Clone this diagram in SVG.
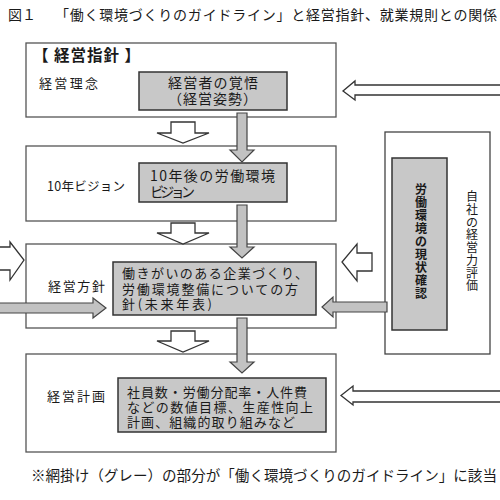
<svg xmlns="http://www.w3.org/2000/svg" width="500" height="500" viewBox="0 0 500 500">
<style>
text{font-family:"Noto Sans CJK JP","Noto Sans CJK SC",sans-serif;fill:#1a1a1a}
.outer{fill:#fff;stroke:#555;stroke-width:1.3}
.gray{fill:#c8c8c8;stroke:#333;stroke-width:1.5}
.lbl{font-size:13px}
.in{font-size:14px}
.in2{font-size:13px}
.v{font-size:12px;text-anchor:middle}
.vb{font-size:12px;text-anchor:middle;font-weight:bold}
.ga{fill:#c2c2c2;stroke:#444;stroke-width:1.2;stroke-linejoin:miter}
.wa{fill:#fff;stroke:#333;stroke-width:1.3;stroke-linejoin:miter}
</style>
<rect width="500" height="500" fill="#fff"/>
<g id="title">
<text x="8" y="20" font-size="14">図１</text>
<text x="55" y="20" font-size="14" textLength="442" lengthAdjust="spacing">「働く環境づくりのガイドライン」と経営指針、就業規則との関係</text>
</g>
<g id="policy">
<rect class="outer" x="26" y="43" width="310" height="74"/>
<text x="33" y="61" font-size="15.5" font-weight="bold" textLength="107" lengthAdjust="spacing">【 経営指針 】</text>
<text class="lbl" x="39" y="88" textLength="59" lengthAdjust="spacing">経営理念</text>
</g>
<g id="resolve">
<rect class="gray" x="139" y="72" width="148" height="38"/>
<text class="in" x="168" y="88" textLength="90" lengthAdjust="spacing">経営者の覚悟</text>
<text class="in" x="213" y="104" text-anchor="middle" letter-spacing="1">（経営姿勢）</text>
</g>
<g id="vision">
<rect class="outer" x="26" y="146" width="310" height="75"/>
<text x="47" y="191" font-size="12.5" textLength="78" lengthAdjust="spacing">10年ビジョン</text>
</g>
<g id="vision-detail">
<rect class="gray" x="139" y="163" width="148" height="39"/>
<text class="in" x="150" y="181" textLength="125" lengthAdjust="spacing">10年後の労働環境</text>
<text class="in" x="150" y="197" textLength="45" lengthAdjust="spacing">ビジョン</text>
</g>
<g id="direction">
<rect class="outer" x="26" y="244" width="310" height="84"/>
<text class="lbl" x="48" y="291" textLength="57" lengthAdjust="spacing">経営方針</text>
</g>
<g id="direction-detail">
<rect class="gray" x="113" y="262" width="203" height="53"/>
<text class="in2" x="122" y="278" textLength="186" lengthAdjust="spacing">働きがいのある企業づくり、</text>
<text class="in2" x="122" y="293.5" textLength="176" lengthAdjust="spacing">労働環境整備についての方</text>
<text class="in2" x="122" y="309" textLength="90" lengthAdjust="spacing">針(未来年表)</text>
</g>
<g id="plan">
<rect class="outer" x="26" y="354" width="310" height="98"/>
<text class="lbl" x="47" y="401" textLength="58" lengthAdjust="spacing">経営計画</text>
</g>
<g id="plan-detail">
<rect class="gray" x="118" y="378" width="208" height="54"/>
<text class="in2" x="127" y="397" textLength="180" lengthAdjust="spacing">社員数・労働分配率・人件費</text>
<text class="in2" x="127" y="412" textLength="186" lengthAdjust="spacing">などの数値目標、生産性向上</text>
<text class="in2" x="127" y="426.5" textLength="168" lengthAdjust="spacing">計画、組織的取り組みなど</text>
</g>
<g id="evaluation">
<rect x="385" y="132" width="105" height="222" fill="#fff" stroke="#444" stroke-width="1.3"/>
<text class="v" x="472" y="201.3">自</text>
<text class="v" x="472" y="214">社</text>
<text class="v" x="472" y="226.7">の</text>
<text class="v" x="472" y="239.4">経</text>
<text class="v" x="472" y="252.1">営</text>
<text class="v" x="472" y="264.8">力</text>
<text class="v" x="472" y="277.5">評</text>
<text class="v" x="472" y="290.2">価</text>
</g>
<g id="status-check">
<rect class="gray" x="392" y="158" width="55" height="172"/>
<text class="vb" x="421" y="194.3">労</text>
<text class="vb" x="421" y="207.3">働</text>
<text class="vb" x="421" y="220.3">環</text>
<text class="vb" x="421" y="233.3">境</text>
<text class="vb" x="421" y="246.3">の</text>
<text class="vb" x="421" y="259.3">現</text>
<text class="vb" x="421" y="272.3">状</text>
<text class="vb" x="421" y="285.3">確</text>
<text class="vb" x="421" y="298.3">認</text>
</g>
<g id="connectors">
<polygon class="wa" points="502,85 355,85 355,81 343,91 355,100 355,95 502,95"/>
<polygon class="wa" points="502,391 353,391 353,386 341,395.5 353,405 353,402 502,402"/>
<polygon class="wa" points="171,122 195,122 195,133 209,133 183,143 157,133 171,133"/>
<polygon class="wa" points="171,223 195,223 195,233 209,233 183,244 157,233 171,233"/>
<polygon class="wa" points="171,331 195,331 195,341 209,341 183,352 157,341 171,341"/>
<polygon class="wa" points="-2,247 10,247 10,242 24,260 10,280 10,270 -2,270"/>
<polygon class="wa" points="372,253 357,253 357,244 342,262 357,281 357,271 372,271"/>
<polygon class="ga" points="237,113 247,113 247,150 254,150 242,162 230,150 237,150"/>
<polygon class="ga" points="237,205 247,205 247,247 254,247 242,258 230,247 237,247"/>
<polygon class="ga" points="237,318 247,318 247,362 254,362 242,373 230,362 237,362"/>
<polygon class="ga" points="-2,303 93,303 93,298 106,308 93,318 93,313 -2,313"/>
<polygon class="ga" points="387,302 333,302 333,297 322,307 333,317 333,312 387,312"/>
</g>
<g id="note">
<text x="31" y="481" font-size="14.5" textLength="466" lengthAdjust="spacingAndGlyphs">※網掛け（グレー）の部分が「働く環境づくりのガイドライン」に該当</text>
</g>
</svg>
